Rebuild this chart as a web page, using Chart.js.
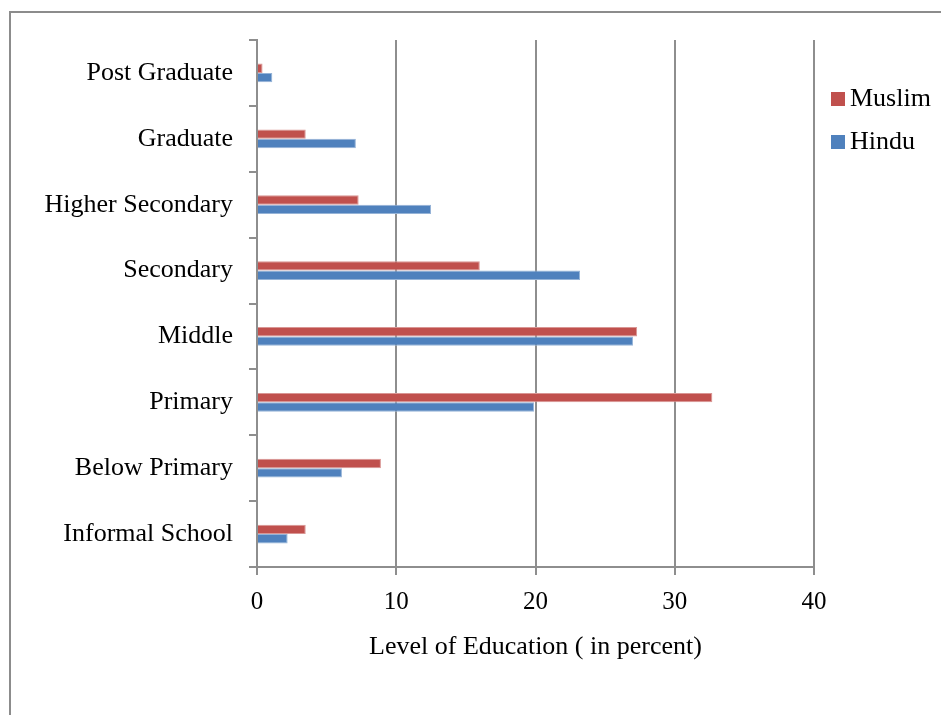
<!DOCTYPE html>
<html>
<head>
<meta charset="utf-8">
<title>Level of Education</title>
<script src="https://cdn.jsdelivr.net/npm/chart.js@4.4.1/dist/chart.umd.min.js"></script>
<style>
  html, body { margin: 0; padding: 0; background: #fff; overflow: hidden; }
  #wrap { position: relative; width: 941px; height: 715px; }
  #frame {
    position: absolute; left: 9px; top: 11px; width: 1000px; height: 800px;
    border-left: 2px solid #8c8c8c; border-top: 2px solid #8c8c8c;
  }
  #graphEdu { position: absolute; left: 0; top: 0; }
</style>
</head>
<body>
<div id="wrap">
  <div id="frame"></div>
  <canvas id="graphEdu" width="941" height="715"></canvas>
</div>
<script>
var levels = ['Post Graduate', 'Graduate', 'Higher Secondary', 'Secondary',
              'Middle', 'Primary', 'Below Primary', 'Informal School'];
var muslim = [0.4, 3.5, 7.3, 16.0, 27.3, 32.7, 8.9, 3.5];
var hindu  = [1.1, 7.1, 12.5, 23.2, 27.0, 19.9, 6.1, 2.2];
var xTicks = [0, 10, 20, 30, 40];

var serif = 'Liberation Serif';
var gray = '#8e8e8e';

// legend drawn by hand so it sits near the top right like the original
var sideLegend = {
  id: 'sideLegend',
  afterDraw: function(chart) {
    var c = chart.ctx;
    c.save();
    c.font = '26px ' + serif;
    c.textBaseline = 'middle';
    c.textAlign = 'left';
    chart.data.datasets.forEach(function(ds, i) {
      var y = 99 + i * 43;
      c.fillStyle = ds.backgroundColor;
      c.fillRect(831, y - 7, 14, 14);
      c.fillStyle = '#000';
      c.fillText(ds.label, 850, y);
    });
    c.restore();
  }
};

var ctx = document.getElementById('graphEdu');
var eduChart = new Chart(ctx, {
  type: 'bar',
  data: {
    labels: levels,
    datasets: [{
      label: 'Muslim',
      data: muslim,
      backgroundColor: '#C0504D',
      borderColor: '#D99694',
      borderWidth: 1
    }, {
      label: 'Hindu',
      data: hindu,
      backgroundColor: '#4F81BD',
      borderColor: '#95B3D7',
      borderWidth: 1
    }]
  },
  options: {
    indexAxis: 'y',
    responsive: false,
    maintainAspectRatio: false,
    animation: false,
    categoryPercentage: 0.285,
    barPercentage: 1.0,
    layout: {
      padding: { left: 0, top: 40, right: 127, bottom: 48 }
    },
    plugins: {
      legend: { display: false },
      tooltip: { enabled: false }
    },
    scales: {
      x: {
        min: 0,
        max: 40,
        afterBuildTicks: function(scale) {
          scale.ticks = xTicks.map(function(v) { return { value: v }; });
        },
        afterFit: function(scale) { scale.height = 100; },
        grid: {
          color: gray,
          lineWidth: 2,
          tickLength: 8,
          drawTicks: true
        },
        border: { color: gray, width: 2 },
        ticks: {
          color: '#000',
          padding: 12,
          font: { family: serif, size: 25 }
        },
        title: {
          display: true,
          text: 'Level of Education ( in percent)',
          color: '#000',
          padding: { top: 0, bottom: 4 },
          font: { family: serif, size: 26 }
        }
      },
      y: {
        afterFit: function(scale) { scale.width = 257; },
        grid: {
          drawOnChartArea: false,
          drawTicks: true,
          tickLength: 8,
          color: gray,
          lineWidth: 2
        },
        border: { color: gray, width: 2 },
        ticks: {
          color: '#000',
          padding: 16,
          font: { family: serif, size: 26 }
        }
      }
    }
  },
  plugins: [sideLegend]
});
</script>
</body>
</html>
